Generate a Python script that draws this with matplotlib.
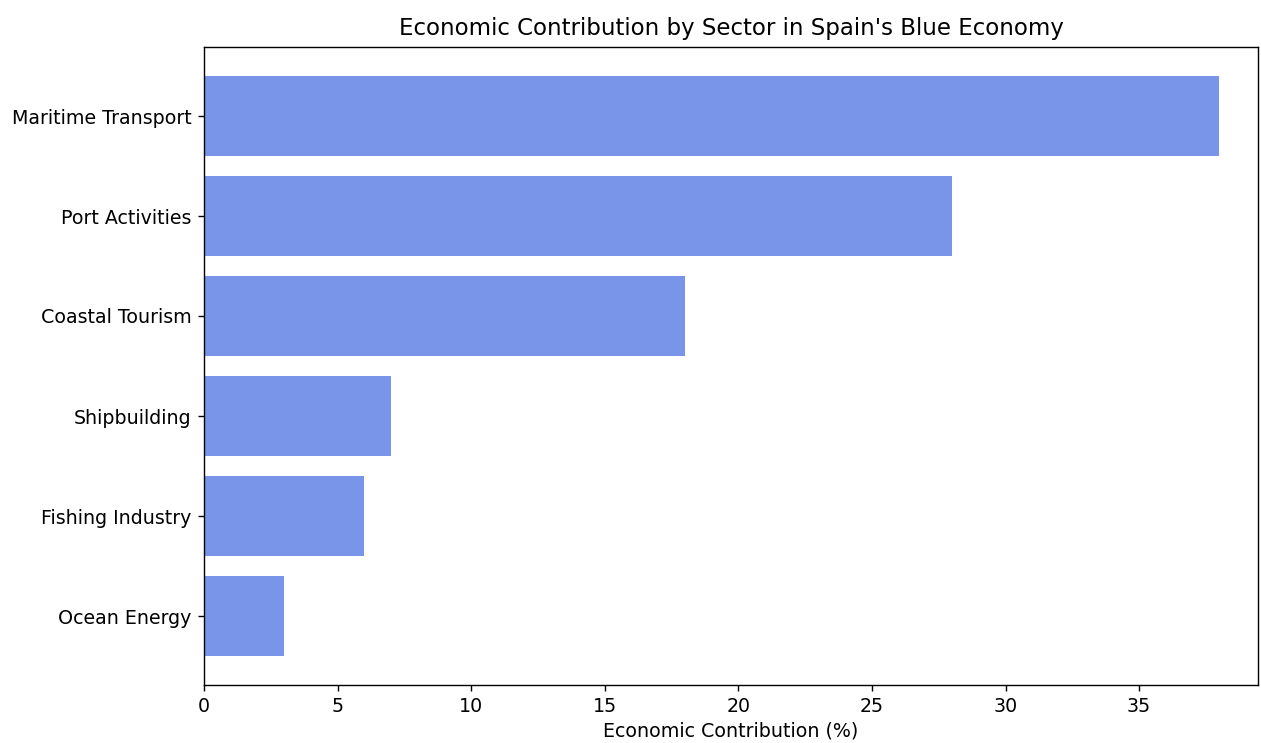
import matplotlib.pyplot as plt

sectors = ['Ocean Energy', 'Fishing Industry', 'Shipbuilding',
           'Coastal Tourism', 'Port Activities', 'Maritime Transport']
contribution = [3, 6, 7, 18, 28, 38]

plt.rcParams['font.size'] = 10.9

fig = plt.figure(figsize=(10, 743 / 126.1), dpi=126.1)
ax = fig.add_axes([204 / 1261, 1 - 685 / 743, (1258 - 204) / 1261, (685 - 47) / 743])

ax.barh(sectors, contribution, color='royalblue', alpha=0.7, height=0.8)
ax.set_xlim(0, 39.45)
ax.tick_params(labelsize=10.9)
ax.set_xlabel('Economic Contribution (%)', fontsize=10.9, labelpad=3)
ax.set_title("Economic Contribution by Sector in Spain's Blue Economy", fontsize=13.1, pad=7)

fig.savefig('out.png', dpi=126.1)
